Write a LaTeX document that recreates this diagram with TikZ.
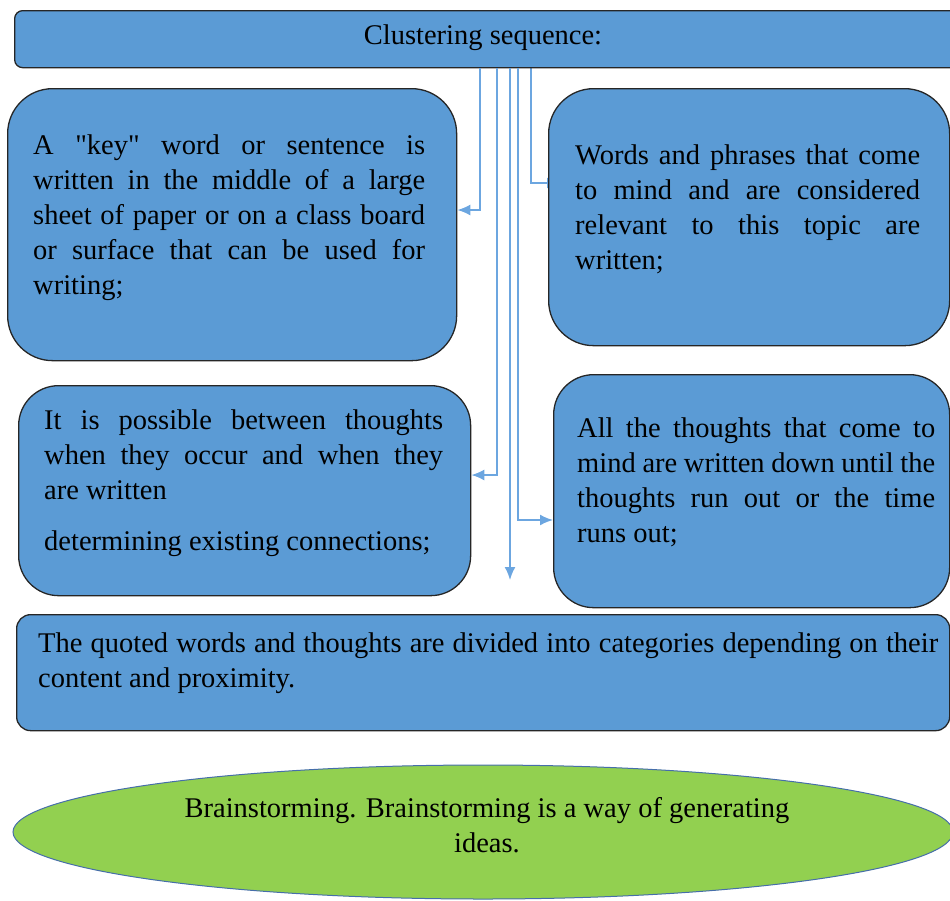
\documentclass[tikz,border=0pt]{standalone}
\usepackage{fontspec}
\setmainfont{Liberation Serif}[Ligatures=TeXOff]
\usetikzlibrary{arrows.meta,shapes.geometric,backgrounds}
\definecolor{boxblue}{RGB}{91,155,213}
\definecolor{linkblue}{RGB}{108,166,224}
\definecolor{ideagreen}{RGB}{146,208,80}
\definecolor{ringblue}{RGB}{70,110,170}
\newcommand{\boxfont}{\fontsize{28.5}{35}\selectfont}

\begin{document}
\begin{tikzpicture}[x=1pt, y=-1pt,
  card/.style={draw=black!85, line width=1.3pt, fill=boxblue, anchor=north west, inner sep=0pt},
  blurb/.style={anchor=base west, inner sep=0pt, align=justify, font=\boxfont},
  link/.style={draw=linkblue, line width=1.8pt, -{Latex[length=13pt,width=11pt]}}]
\useasboundingbox (0,0) rectangle (950,900);
\clip (0,0) rectangle (950,900);
% boxes
\node[card, rounded corners=8pt, minimum width=990pt, minimum height=57pt] (seq) at (14,10) {};
\node[card, rounded corners=45pt, minimum width=449pt, minimum height=272pt] (key) at (7,88) {};
\node[card, rounded corners=45pt, minimum width=401pt, minimum height=257pt] (words) at (548,88) {};
\node[card, rounded corners=40pt, minimum width=452pt, minimum height=210pt] (possible) at (18,385) {};
\node[card, rounded corners=40pt, minimum width=396pt, minimum height=233pt] (thoughts) at (553,374) {};
\node[card, rounded corners=14pt, minimum width=933pt, minimum height=116pt] (quoted) at (16,614) {};
\node[ellipse, draw=ringblue, line width=1pt, fill=ideagreen, minimum width=940pt, minimum height=134pt] (brain) at (483,832) {};
% texts
\node[anchor=base, inner sep=0pt, font=\boxfont] (seqtxt) at (483,44) {Clustering sequence:};
\node[blurb, text width=392pt] (keytxt) at (33,154) {A "key" word or sentence is\linebreak written in the middle of a large\linebreak sheet of paper or on a class board\linebreak or surface that can be used for\linebreak writing;};
\node[blurb, text width=345pt] (wordstxt) at (575,164) {Words and phrases that come\linebreak to mind and are considered\linebreak relevant to this topic are\linebreak written;};
\node[blurb, text width=399pt] (possibletxt) at (44,429) {It is possible between thoughts\linebreak when they occur and when they\linebreak are written\par\vspace{16pt}determining existing connections;};
\node[blurb, text width=358pt] (thoughtstxt) at (577,437) {All the thoughts that come to\linebreak mind are written down until the\linebreak thoughts run out or the time\linebreak runs out;};
\node[blurb, text width=900pt] (quotedtxt) at (38,652) {The quoted words and thoughts are divided into categories depending on their\linebreak content and proximity.};
\node[anchor=base, inner sep=0pt, align=center, font=\boxfont] (braintxt) at (487,852) {Brainstorming. Brainstorming is a way of generating\\ideas.};
% connectors
\coordinate (k1) at (480,210);
\coordinate (p1) at (497,475);
\coordinate (d1) at (510,580);
\coordinate (t1) at (518,520);
\coordinate (w1) at (531,183);
\draw[link] (seq.south -| k1) |- (key.east |- k1);
\draw[link] (seq.south -| p1) |- (possible.east |- p1);
\draw[link] (seq.south -| d1) -- (d1);
\draw[link] (seq.south -| t1) |- (thoughts.west |- t1);
\begin{pgfonlayer}{background}
\draw[link] (seq.south -| w1) |- ([xshift=12pt]words.west |- w1);
\end{pgfonlayer}
\end{tikzpicture}
\end{document}
